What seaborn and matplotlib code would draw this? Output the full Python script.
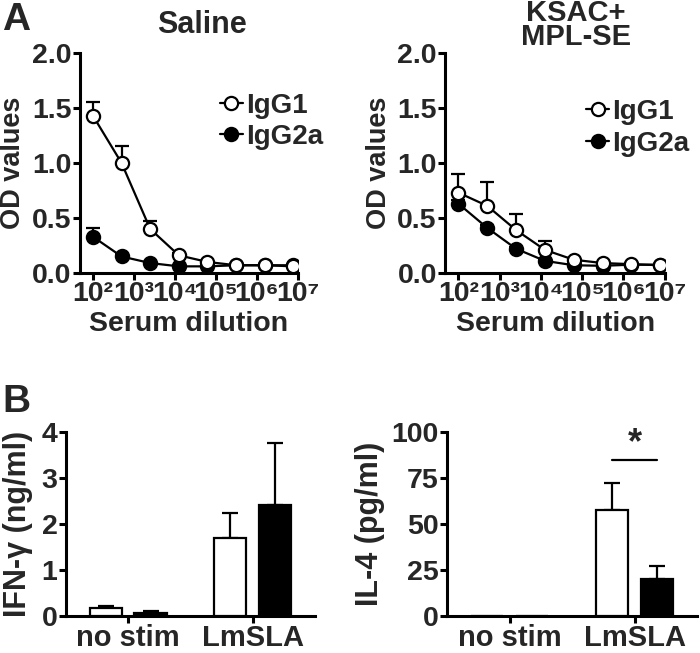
import numpy as np
import pandas as pd
import seaborn as sns
import matplotlib.pyplot as plt
from matplotlib.lines import Line2D

# ---------------- data ----------------
dilution = [100, 500, 2500, 12500, 62500, 312500, 1562500, 7812500]
dilution_ticks = [1e2, 1e3, 1e4, 1e5, 1e6, 1e7]
dilution_labels = ['10²', '10³', '10⁴', '10⁵', '10⁶', '10⁷']

saline_igg1 = [1.43, 1.00, 0.40, 0.16, 0.10, 0.07, 0.07, 0.06]
saline_igg1_err = [0.12, 0.15, 0.07, 0.02, 0.01, 0.01, 0.01, 0.01]
saline_igg2a = [0.33, 0.15, 0.09, 0.06, 0.06, 0.07, 0.07, 0.07]
saline_igg2a_err = [0.08, 0.02, 0.01, 0.01, 0.01, 0.01, 0.01, 0.01]

ksac_igg1 = [0.73, 0.61, 0.39, 0.21, 0.12, 0.09, 0.08, 0.07]
ksac_igg1_err = [0.17, 0.22, 0.15, 0.08, 0.02, 0.01, 0.01, 0.01]
ksac_igg2a = [0.63, 0.41, 0.22, 0.11, 0.07, 0.065, 0.075, 0.075]
ksac_igg2a_err = [0.03, 0.03, 0.02, 0.01, 0.01, 0.01, 0.01, 0.01]

stim_groups = ['no stim', 'LmSLA']
ifn_g1 = [0.18, 1.70]
ifn_g1_err = [0.03, 0.55]
ifn_g2 = [0.07, 2.42]
ifn_g2_err = [0.04, 1.35]

il4_g1 = [0.0, 57.5]
il4_g1_err = [0.0, 15.0]
il4_g2 = [0.0, 20.0]
il4_g2_err = [0.0, 7.0]

series_names = ['IgG1', 'IgG2a']

# ---------------- style ----------------
sns.set_style('ticks')
plt.rcParams['font.family'] = ['Liberation Sans', 'DejaVu Sans']
plt.rcParams['font.weight'] = 'bold'
plt.rcParams['axes.labelweight'] = 'bold'

TICK_FS = 20.5
LW = 2.2
MS = 9.5


def style_axes(ax):
    sns.despine(ax=ax)
    for s in ['left', 'bottom']:
        ax.spines[s].set_linewidth(LW)
        ax.spines[s].set_color('black')
    ax.tick_params(axis='both', which='major', length=5, width=LW,
                   labelsize=TICK_FS, color='black', pad=1)
    ax.tick_params(axis='both', which='minor', length=0)


def plot_curves(ax, igg1, igg1_err, igg2a, igg2a_err, leg_anchor):
    sns.lineplot(x=dilution, y=igg2a, ax=ax, color='black', lw=1.6,
                 marker='o', markersize=MS, mfc='black', mec='black', mew=1.6,
                 zorder=3)
    sns.lineplot(x=dilution, y=igg1, ax=ax, color='black', lw=1.6,
                 marker='o', markersize=MS, mfc='white', mec='black', mew=1.6,
                 zorder=4)
    for y, e in [(igg1, igg1_err), (igg2a, igg2a_err)]:
        ax.errorbar(dilution, y, yerr=[np.zeros(len(e)), e], fmt='none',
                    ecolor='black', elinewidth=1.6, capsize=5, capthick=1.6,
                    zorder=2)
    ax.set_xscale('log')
    ax.set_xlim(48, 1.02e7)
    ax.set_ylim(0, 2.0)
    ax.set_yticks([0, 0.5, 1.0, 1.5, 2.0])
    ax.set_yticklabels(['0.0', '0.5', '1.0', '1.5', '2.0'])
    ax.set_xticks(dilution_ticks)
    ax.set_xticklabels(dilution_labels)
    style_axes(ax)
    ax.tick_params(axis='x', labelsize=20.5, pad=1)
    ax.set_xlabel('Serum dilution', fontsize=20.5, labelpad=3)
    ax.set_ylabel('OD values', fontsize=19.5, labelpad=4)
    handles = [
        Line2D([], [], color='black', lw=1.6, marker='o', markersize=MS,
               mfc='white', mec='black', mew=1.6),
        Line2D([], [], color='black', lw=1.6, marker='o', markersize=MS,
               mfc='black', mec='black', mew=1.6),
    ]
    ax.legend(handles, series_names, loc='upper left',
              bbox_to_anchor=leg_anchor, frameon=False, fontsize=20,
              handlelength=0.85, handletextpad=0.1, borderpad=0,
              borderaxespad=0, labelspacing=0.2)


def plot_bars(ax, g1, g1_err, g2, g2_err, ylim, yticks, ylabel, lpad):
    df = pd.DataFrame({
        'group': stim_groups * 2,
        'series': [series_names[0]] * 2 + [series_names[1]] * 2,
        'value': list(g1) + list(g2),
    })
    sns.barplot(data=df, x='group', y='value', hue='series',
                order=stim_groups, hue_order=series_names,
                palette=['white', 'black'], edgecolor='black', linewidth=1.6,
                width=0.72, gap=0.28, legend=False, ax=ax, zorder=3)
    errs = list(g1_err) + list(g2_err)
    centers = []
    for p, e in zip(ax.patches, errs):
        xc = p.get_x() + p.get_width() / 2
        centers.append(xc)
        h = p.get_height()
        if e > 0:
            ax.errorbar([xc], [h], yerr=[[0], [e]], fmt='none', ecolor='black',
                        elinewidth=1.6, capsize=6, capthick=1.6, zorder=2)
    ax.set_xlim(-0.5, 1.5)
    ax.set_ylim(*ylim)
    ax.set_yticks(yticks)
    ax.set_xlabel('')
    style_axes(ax)
    ax.set_ylabel(ylabel, fontsize=22, labelpad=lpad)
    ax.tick_params(axis='x', labelsize=21, pad=1)
    return centers


fig = plt.figure(figsize=(7.0, 6.53), dpi=100)

ax1 = fig.add_axes([0.114, 0.582, 0.312, 0.337])
ax2 = fig.add_axes([0.636, 0.582, 0.314, 0.337])
ax3 = fig.add_axes([0.094, 0.057, 0.356, 0.281])
ax4 = fig.add_axes([0.639, 0.057, 0.357, 0.281])

plot_curves(ax1, saline_igg1, saline_igg1_err, saline_igg2a, saline_igg2a_err,
            (0.64, 0.82))
plot_curves(ax2, ksac_igg1, ksac_igg1_err, ksac_igg2a, ksac_igg2a_err,
            (0.64, 0.79))
ax1.text(0.56, 1.06, 'Saline', transform=ax1.transAxes, ha='center',
         va='bottom', fontsize=22, fontweight='bold')
ax2.text(0.595, 1.01, 'KSAC+\nMPL-SE', transform=ax2.transAxes, ha='center',
         va='bottom', fontsize=21, fontweight='bold', linespacing=0.82)

plot_bars(ax3, ifn_g1, ifn_g1_err, ifn_g2, ifn_g2_err, (0, 4),
          [0, 1, 2, 3, 4], 'IFN-γ (ng/ml)', 6)
c4 = plot_bars(ax4, il4_g1, il4_g1_err, il4_g2, il4_g2_err, (0, 100),
               [0, 25, 50, 75, 100], 'IL-4 (pg/ml)', 5)

# significance bar between LmSLA bars
ax4.plot([c4[1], c4[3]], [85, 85], color='black', lw=1.6, zorder=4)
ax4.text((c4[1] + c4[3]) / 2, 84, '*', ha='center', va='bottom',
         fontsize=26, fontweight='bold')

fig.text(0.003, 0.997, 'A', ha='left', va='top', fontsize=28, fontweight='bold')
fig.text(0.003, 0.412, 'B', ha='left', va='top', fontsize=28, fontweight='bold')

fig.savefig('out.png', dpi=100)
